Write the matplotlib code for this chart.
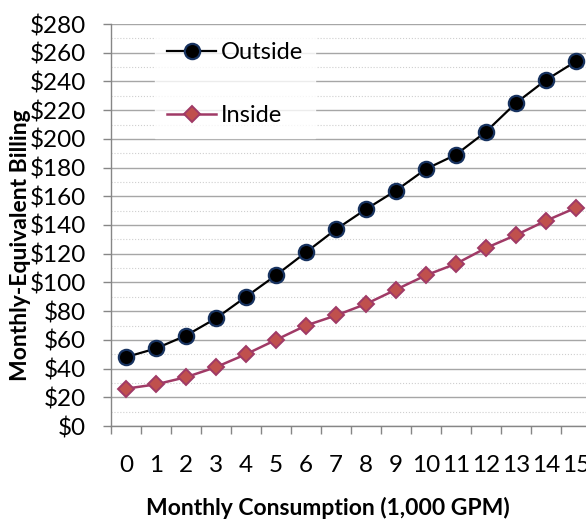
import matplotlib.pyplot as plt
from matplotlib.ticker import MultipleLocator, FuncFormatter

consumption = list(range(16))
outside = [48, 54, 63, 75, 90, 105, 121, 137, 151, 164, 179, 189, 205, 225, 241, 254]
inside = [26, 29, 34, 41, 50, 60, 70, 77, 85, 95, 105, 113, 124, 133, 143, 152]

W, H = 586, 519
fig = plt.figure(figsize=(W / 100, H / 100), dpi=100)
plt.rcParams['font.family'] = ['Lato', 'DejaVu Sans']

# axes runs past the right edge of the figure, as in the reference
left, right, top, bottom = 111, 591, 24, 426
ax = fig.add_axes([left / W, (H - bottom) / H, (right - left) / W, (bottom - top) / H])

ax.plot(consumption, outside, color='black', lw=1.6, marker='o', ms=11,
        mfc='black', mec='#17325f', mew=1.6, label='Outside', zorder=4, clip_on=False)
ax.plot(consumption, inside, color='#a03a66', lw=1.8, marker='D', ms=8.3,
        mfc='#c0504d', mec='#a03a66', mew=1.4, label='Inside', zorder=4, clip_on=False)

ax.set_xlim(-0.5, 15.5)
ax.set_ylim(0, 280)

ax.yaxis.set_major_locator(MultipleLocator(20))
ax.yaxis.set_minor_locator(MultipleLocator(10))
ax.yaxis.set_major_formatter(FuncFormatter(lambda v, p: f"${v:.0f}"))
ax.grid(which='major', axis='y', color='#a6a6a6', lw=1.0)
ax.grid(which='minor', axis='y', color='#cfcfcf', lw=0.8, ls=':')
ax.set_axisbelow(True)

ax.set_xticks(consumption)
ax.set_xticklabels([str(c) for c in consumption])
ax.set_xticks([c - 0.5 for c in consumption] + [15.5], minor=True)
ax.tick_params(axis='x', which='major', length=0, pad=21, labelsize=17.5)
ax.tick_params(axis='x', which='minor', length=6, color='#868686', width=1)
ax.tick_params(axis='y', which='major', length=6, color='#868686', width=1, pad=12, labelsize=17.5)
ax.tick_params(axis='y', which='minor', length=0)

for s in ['top', 'right']:
    ax.spines[s].set_visible(False)
for s in ['left', 'bottom']:
    ax.spines[s].set_color('#868686')
    ax.spines[s].set_linewidth(1.0)

leg = ax.legend(loc='upper left', bbox_to_anchor=(155 / W, 1 - 30 / H),
                bbox_transform=fig.transFigure, fontsize=17, frameon=True,
                fancybox=False, borderpad=0.5, labelspacing=1.8,
                handlelength=2.1, handletextpad=0.2, borderaxespad=0)
leg.get_frame().set_facecolor('white')
leg.get_frame().set_edgecolor('white')
leg.set_zorder(3)

fig.text(21 / W, 1 - 245 / H, 'Monthly-Equivalent Billing', rotation=90,
         ha='center', va='center', fontsize=16.5, fontweight='bold')
fig.text(328 / W, 1 - 508 / H, 'Monthly Consumption (1,000 GPM)',
         ha='center', va='center', fontsize=16.5, fontweight='bold')

fig.savefig('out.png', dpi=100)
